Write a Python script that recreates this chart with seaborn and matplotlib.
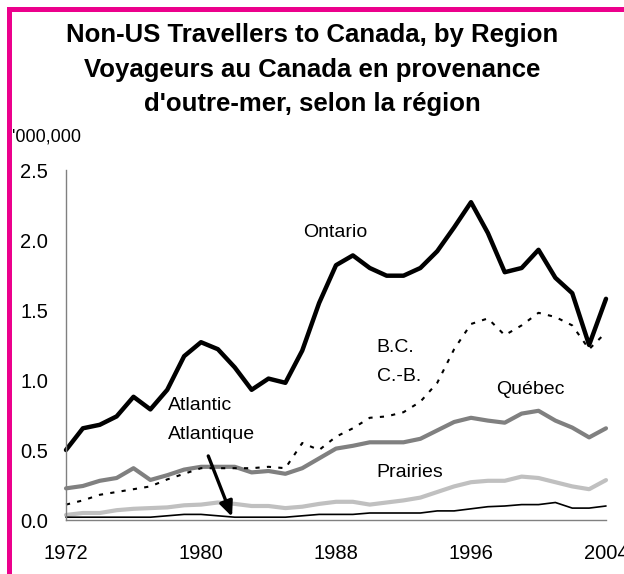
import seaborn as sns
import matplotlib.pyplot as plt
import pandas as pd
import numpy as np
from matplotlib.patches import Rectangle

# data, millions of travellers
years = list(range(1972, 2005))
ontario = [0.50, 0.655, 0.68, 0.74, 0.88, 0.79, 0.93, 1.17, 1.27, 1.22, 1.09, 0.93, 1.01, 0.98, 1.21, 1.55,
           1.82, 1.89, 1.80, 1.745, 1.745, 1.80, 1.92, 2.09, 2.27, 2.05, 1.77, 1.80, 1.93, 1.73, 1.62, 1.25, 1.58]
bc = [0.11, 0.14, 0.18, 0.20, 0.22, 0.24, 0.29, 0.33, 0.37, 0.37, 0.37, 0.37, 0.38, 0.37, 0.55, 0.50,
      0.595, 0.655, 0.73, 0.74, 0.77, 0.845, 0.98, 1.22, 1.40, 1.44, 1.32, 1.39, 1.48, 1.45, 1.39, 1.22, 1.34]
quebec = [0.226, 0.243, 0.28, 0.30, 0.37, 0.286, 0.32, 0.36, 0.38, 0.38, 0.38, 0.34, 0.35, 0.33, 0.37, 0.44,
          0.51, 0.53, 0.555, 0.555, 0.555, 0.58, 0.64, 0.70, 0.73, 0.71, 0.695, 0.76, 0.78, 0.71, 0.66, 0.59, 0.655]
prairies = [0.036, 0.05, 0.05, 0.07, 0.08, 0.085, 0.09, 0.105, 0.11, 0.125, 0.115, 0.10, 0.10, 0.085, 0.095, 0.115,
            0.13, 0.13, 0.11, 0.125, 0.14, 0.16, 0.20, 0.24, 0.27, 0.28, 0.28, 0.31, 0.30, 0.27, 0.24, 0.22, 0.285]
atlantic = [0.02, 0.02, 0.02, 0.02, 0.02, 0.02, 0.03, 0.04, 0.04, 0.03, 0.02, 0.02, 0.02, 0.02, 0.03, 0.04,
            0.04, 0.04, 0.05, 0.05, 0.05, 0.05, 0.065, 0.065, 0.08, 0.095, 0.10, 0.11, 0.11, 0.125, 0.085, 0.085, 0.10]

xticks = [1972, 1980, 1988, 1996, 2004]
yticks = [0.0, 0.5, 1.0, 1.5, 2.0, 2.5]

title_lines = ["Non-US Travellers to Canada, by Region",
               "Voyageurs au Canada en provenance",
               "d'outre-mer, selon la région"]

sns.set_style("white")
plt.rcParams['font.family'] = ['Liberation Sans', 'DejaVu Sans']
plt.rcParams['text.color'] = 'black'
plt.rcParams['xtick.labelcolor'] = 'black'
plt.rcParams['ytick.labelcolor'] = 'black'

fig = plt.figure(figsize=(6.24, 5.74), dpi=100)
ax = fig.add_axes([66/624, 1 - 520/574, (606 - 66)/624, (520 - 170)/574])

df = pd.DataFrame({"year": years, "Ontario": ontario, "BC": bc, "Quebec": quebec,
                   "Prairies": prairies, "Atlantic": atlantic})

sns.lineplot(data=df, x="year", y="Prairies", ax=ax, color="#c0c0c0", linewidth=3, clip_on=False)
sns.lineplot(data=df, x="year", y="Quebec", ax=ax, color="#808080", linewidth=3, clip_on=False)
sns.lineplot(data=df, x="year", y="BC", ax=ax, color="black", linewidth=1.5, clip_on=False,
             linestyle=(0, (2, 3.5)))
sns.lineplot(data=df, x="year", y="Atlantic", ax=ax, color="black", linewidth=1.2, clip_on=False)
sns.lineplot(data=df, x="year", y="Ontario", ax=ax, color="black", linewidth=3.2, clip_on=False)

ax.set_xlim(1972, 2004)
ax.set_ylim(0, 2.5)
ax.set_xticks(xticks)
ax.set_yticks(yticks)
ax.set_yticklabels([f"{v:.1f}" for v in yticks])
ax.set_xlabel("")
ax.set_ylabel("")
for s in ["top", "right"]:
    ax.spines[s].set_visible(False)
for s in ["left", "bottom"]:
    ax.spines[s].set_color("#808080")
    ax.spines[s].set_linewidth(1)
ax.tick_params(axis="y", direction="out", length=4, width=1, color="#808080", labelsize=14.5, pad=9)
ax.tick_params(axis="x", direction="in", length=5, width=1, color="#808080", labelsize=14.5, pad=17)

# series labels
fs = 14
ax.text(1986.05, 2.02, "Ontario", fontsize=fs, va="baseline")
ax.text(1990.4, 1.20, "B.C.", fontsize=fs, va="baseline")
ax.text(1990.4, 0.99, "C.-B.", fontsize=fs, va="baseline")
ax.text(1997.5, 0.90, "Québec", fontsize=fs, va="baseline")
ax.text(1990.4, 0.305, "Prairies", fontsize=fs, va="baseline")
ax.text(1978.05, 0.786, "Atlantic", fontsize=fs, va="baseline")
ax.text(1978.05, 0.58, "Atlantique", fontsize=fs, va="baseline")
ax.annotate("", xy=(1981.9, 0.005), xytext=(1980.37, 0.476),
            arrowprops=dict(arrowstyle="-|>,head_length=0.9,head_width=0.4", color="black", lw=2.4),
            annotation_clip=False)

# title and unit label
for txt, base in zip(title_lines, [42, 77, 111]):
    fig.text(0.5, 1 - base/574, txt, ha="center", va="baseline", fontsize=18.5, fontweight="bold")
fig.text(12/624, 1 - 141/574, "'000,000", fontsize=13, va="baseline")

# magenta frame
fig.patches.append(Rectangle((8.5/624, -0.2), 1.5, 1.2 - 8.5/574, transform=fig.transFigure,
                             fill=False, edgecolor="#ec008c", linewidth=3.6, figure=fig))

fig.savefig("out.png", dpi=100)
